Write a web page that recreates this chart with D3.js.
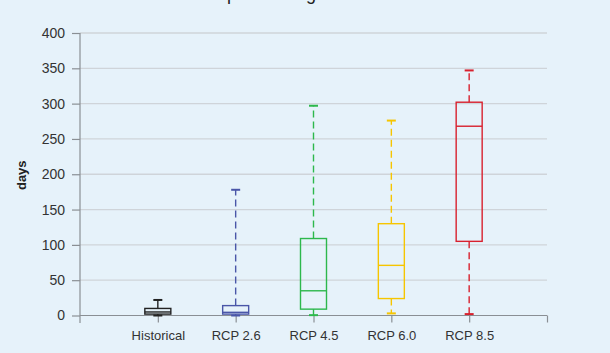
<!DOCTYPE html>
<html>
<head>
<meta charset="utf-8">
<script src="https://d3js.org/d3.v7.min.js"></script>
<style>
  body { margin: 0; background: #e6f2fa; }
  svg { display: block; font-family: "Liberation Sans", Arial, sans-serif; }
</style>
</head>
<body>
<script>
const categories = ["Historical", "RCP 2.6", "RCP 4.5", "RCP 6.0", "RCP 8.5"];
const whiskerLow = [0, 0, 0.5, 3, 2];
const q1 = [2, 2, 9, 24, 105];
const median = [5, 4.5, 35, 71, 268];
const q3 = [10, 14, 109, 130, 302];
const whiskerHigh = [22, 178, 297, 276, 347];
const colors = ["#222222", "#4a56a8", "#2db84c", "#f6c500", "#d8212e"];
const yTicks = [0, 50, 100, 150, 200, 250, 300, 350, 400];

const width = 610, height = 353;
const svg = d3.select("body").append("svg")
  .attr("width", width).attr("height", height)
  .style("background", "#e6f2fa");

// title is cropped at the top of the image (only descenders show)
svg.append("text")
  .attr("x", 177).attr("y", 0)
  .attr("font-size", 18).attr("fill", "#222")
  .text("Snow period length");

const x = d3.scaleLinear().domain([0, categories.length + 1]).range([80, 547]);
const y = d3.scaleLinear().domain([0, 400]).range([315.5, 33]);

// gridlines
svg.append("g").selectAll("line")
  .data(yTicks.filter(d => d > 0)).join("line")
  .attr("x1", 80).attr("x2", 547)
  .attr("y1", d => y(d)).attr("y2", d => y(d))
  .attr("stroke", "#cfd4d9").attr("stroke-width", 1.3);

// y axis
const yAxis = svg.append("g")
  .attr("transform", "translate(80,0)")
  .call(d3.axisLeft(y).tickValues(yTicks).tickSize(8).tickPadding(7));
yAxis.select(".domain").remove();
yAxis.selectAll(".tick line").attr("stroke", "#8a8f94").attr("stroke-width", 1.2);
yAxis.selectAll(".tick text").attr("font-size", 14).attr("fill", "#333")
  .attr("font-family", "Liberation Sans, Arial, sans-serif");
svg.append("line").attr("x1", 80).attr("x2", 80).attr("y1", 33).attr("y2", 323)
  .attr("stroke", "#8a8f94").attr("stroke-width", 1.2);

// x axis
const xAxis = svg.append("g")
  .attr("transform", `translate(0,${y(0)})`)
  .call(d3.axisBottom(x).tickValues(d3.range(1, categories.length + 2))
    .tickSize(7).tickPadding(8).tickFormat(d => categories[d - 1] || ""));
xAxis.select(".domain").attr("d", `M80,0H547`).attr("stroke", "#8a8f94").attr("stroke-width", 1.2);
xAxis.selectAll(".tick line").attr("stroke", "#8a8f94").attr("stroke-width", 1.2);
xAxis.selectAll(".tick text").attr("font-size", 13).attr("fill", "#333")
  .attr("font-family", "Liberation Sans, Arial, sans-serif");

// y label
svg.append("text")
  .attr("transform", `translate(26,${(y(0) + y(400)) / 2 + 1}) rotate(-90)`)
  .attr("text-anchor", "middle")
  .attr("font-size", 13).attr("font-weight", "bold").attr("fill", "#222")
  .text("days");

// boxes
const boxW = 26, capW = 9;
const data = categories.map((c, i) => ({
  c, i, lo: whiskerLow[i], q1: q1[i], med: median[i], q3: q3[i], hi: whiskerHigh[i], color: colors[i]
}));
const g = svg.append("g").selectAll("g").data(data).join("g")
  .attr("stroke", d => d.color).attr("fill", "none").attr("stroke-width", 1.4);

g.append("line")
  .attr("x1", d => x(d.i + 1)).attr("x2", d => x(d.i + 1))
  .attr("y1", d => y(d.q3)).attr("y2", d => y(d.hi))
  .attr("stroke-dasharray", d => d.i === 0 ? null : "7,4");
g.append("line")
  .attr("x1", d => x(d.i + 1)).attr("x2", d => x(d.i + 1))
  .attr("y1", d => y(d.q1)).attr("y2", d => y(d.lo))
  .attr("stroke-dasharray", d => d.i === 0 ? null : "7,4");
g.append("line")
  .attr("x1", d => x(d.i + 1) - capW / 2).attr("x2", d => x(d.i + 1) + capW / 2)
  .attr("y1", d => y(d.hi)).attr("y2", d => y(d.hi)).attr("stroke-width", 2);
g.append("line")
  .attr("x1", d => x(d.i + 1) - capW / 2).attr("x2", d => x(d.i + 1) + capW / 2)
  .attr("y1", d => y(d.lo)).attr("y2", d => y(d.lo)).attr("stroke-width", 2);
g.append("rect")
  .attr("x", d => x(d.i + 1) - boxW / 2).attr("width", boxW)
  .attr("y", d => y(d.q3)).attr("height", d => y(d.q1) - y(d.q3));
g.append("line")
  .attr("x1", d => x(d.i + 1) - boxW / 2).attr("x2", d => x(d.i + 1) + boxW / 2)
  .attr("y1", d => y(d.med)).attr("y2", d => y(d.med));
</script>
</body>
</html>
